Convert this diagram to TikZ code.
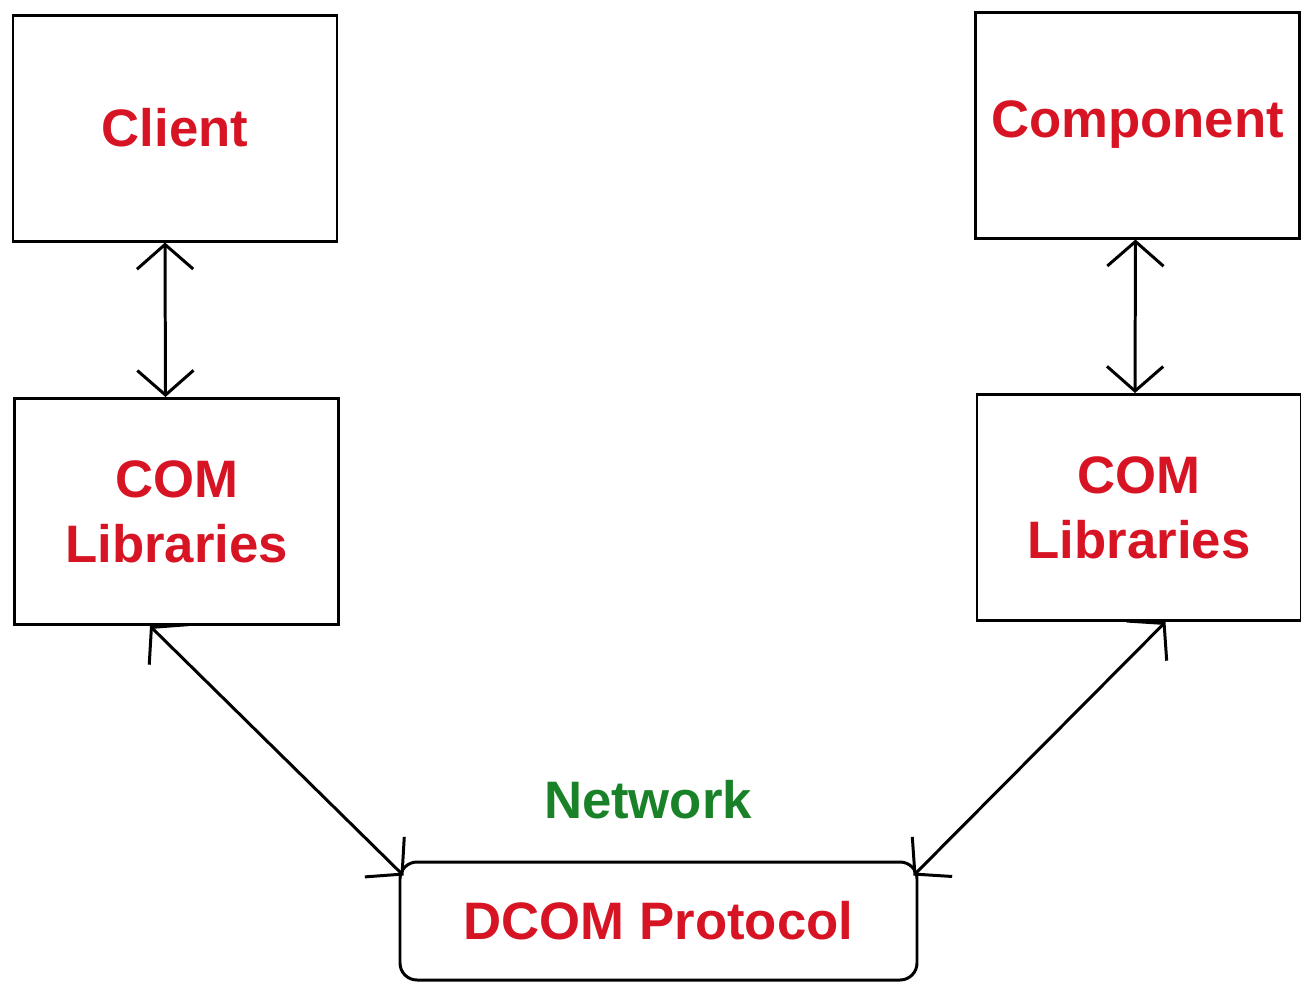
\documentclass[tikz,border=0pt]{standalone}
\usepackage{fontspec}
\setmainfont{Liberation Sans}
\usetikzlibrary{arrows.meta}
\definecolor{boxred}{RGB}{215,20,35}
\definecolor{netgreen}{RGB}{25,130,40}

\begin{document}
\begin{tikzpicture}[line width=0.85pt,
      box/.style={draw, minimum width=3.24cm, minimum height=2.26cm, align=center,
        text=boxred, font=\bfseries\fontsize{15}{18.5}\selectfont},
      link/.style={{Straight Barb[length=7pt,width=16pt]}-{Straight Barb[length=7pt,width=16pt]}}]
      \useasboundingbox (0,0) rectangle (13.01,-9.83);
      % boxes
      \node[box] (client) at (1.75,-1.28) {Client};
      \node[box] (comp) at (11.375,-1.25) {Component};
      \node[box] (libL) at (1.765,-5.115) {COM\\Libraries};
      \node[box] (libR) at (11.39,-5.075) {COM\\Libraries};
      \node[box, minimum width=5.17cm, minimum height=1.18cm, rounded corners=0.17cm] (dcom) at (6.585,-9.21) {DCOM Protocol};
      \node[text=netgreen, font=\bfseries\fontsize{15}{18}\selectfont] (net) at (6.48,-8.0) {Network};
      % arrows
      \draw[link] ([xshift=-1mm]client.south) -- ([xshift=-1.1mm]libL.north);
      \draw[link] ([xshift=-0.2mm]comp.south) -- ([xshift=-0.4mm]libR.north);
      \draw[link] ([xshift=1.37cm]libL.south west) -- ([xshift=0.05cm,yshift=-0.15cm]dcom.north west);
      \draw[link] ([xshift=-1.37cm]libR.south east) -- ([xshift=-0.05cm,yshift=-0.15cm]dcom.north east);
    \end{tikzpicture}
\end{document}
